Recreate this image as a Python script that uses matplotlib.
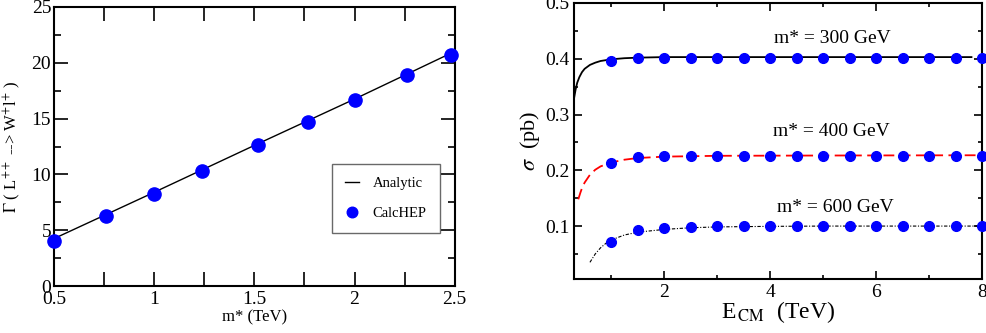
import matplotlib
matplotlib.use('Agg')
import matplotlib.pyplot as plt
from matplotlib.ticker import MultipleLocator, FixedLocator, FuncFormatter

plt.rcParams['font.family'] = ['Liberation Serif', 'DejaVu Serif']
plt.rcParams['mathtext.fontset'] = 'stix'

# Left panel: width vs mass
analytic_m = [0.5, 1.0, 1.5, 2.0, 2.48]
analytic_gamma = [4.25, 8.4, 12.6, 16.75, 20.85]
calchep_m = [0.5, 0.76, 1.0, 1.24, 1.52, 1.77, 2.0, 2.26, 2.48]
calchep_gamma = [4.0, 6.26, 8.29, 10.3, 12.63, 14.67, 16.7, 18.9, 20.72]

# Right panel: cross section vs E_CM
curve300_e = [0.3, 0.33, 0.36, 0.4, 0.45, 0.5, 0.6, 0.7, 0.8, 1.0, 1.25, 1.5, 2.0, 3.0, 5.0, 7.8]
curve300_s = [0.329, 0.345, 0.357, 0.367, 0.376, 0.382, 0.389, 0.393, 0.396, 0.399, 0.401, 0.402, 0.403, 0.403, 0.403, 0.403]
curve400_e = [0.38, 0.42, 0.45, 0.5, 0.6, 0.7, 0.8, 1.0, 1.25, 1.5, 2.0, 3.0, 5.0, 8.0]
curve400_s = [0.148, 0.160, 0.168, 0.178, 0.192, 0.201, 0.207, 0.214, 0.219, 0.222, 0.2245, 0.226, 0.2265, 0.227]
curve600_e = [0.6, 0.7, 0.8, 0.9, 1.0, 1.25, 1.5, 2.0, 2.5, 3.0, 4.0, 5.0, 8.0]
curve600_s = [0.035, 0.050, 0.061, 0.069, 0.075, 0.084, 0.089, 0.094, 0.097, 0.0985, 0.0995, 0.1, 0.1]

points_e = [1.0, 1.5, 2.0, 2.5, 3.0, 3.5, 4.0, 4.5, 5.0, 5.5, 6.0, 6.5, 7.0, 7.5, 8.0]
points300 = [0.396, 0.401, 0.401, 0.401, 0.401, 0.401, 0.401, 0.401, 0.401, 0.401, 0.401, 0.401, 0.401, 0.401, 0.401]
points400 = [0.213, 0.223, 0.2255, 0.226, 0.226, 0.226, 0.226, 0.226, 0.226, 0.226, 0.226, 0.226, 0.226, 0.226, 0.226]
points600 = [0.071, 0.093, 0.097, 0.099, 0.1, 0.1, 0.1, 0.1, 0.1, 0.1, 0.1, 0.1, 0.1, 0.1, 0.1]

labels = ['m* = 300 GeV', 'm* = 400 GeV', 'm* = 600 GeV']
label_pos = [(5.17, 0.4365), (5.15, 0.269), (5.23, 0.1335)]


def style_axes(ax, major, minor):
  for spine in ax.spines.values():
    spine.set_linewidth(1.5)
  ax.tick_params(which='both', direction='in', top=True, right=True, labelsize=14, width=1.2)
  ax.tick_params(which='major', length=major)
  ax.tick_params(which='minor', length=minor)


fig = plt.figure(figsize=(9.87, 3.33), dpi=100)

ax1 = fig.add_axes([0.0547, 0.141, 0.406, 0.838])
ax1.plot(analytic_m, analytic_gamma, color='black', lw=1.0, label='Analytic', zorder=2)
ax1.plot(calchep_m, calchep_gamma, 'o', color='blue', ms=9.5, label='CalcHEP', zorder=3, clip_on=False)
ax1.set_xlim(0.5, 2.5)
ax1.set_ylim(0, 25)
style_axes(ax1, 10, 5)
ax1.xaxis.set_major_locator(MultipleLocator(0.5))
ax1.xaxis.set_minor_locator(FixedLocator([0.75, 1.25, 1.75, 2.25]))
ax1.tick_params(axis='x', which='minor', length=10)
ax1.yaxis.set_major_locator(MultipleLocator(5))
ax1.yaxis.set_minor_locator(MultipleLocator(2.5))
ax1.xaxis.set_major_formatter(FuncFormatter(lambda v, p: '%g' % v))
ax1.tick_params(axis='y', which='major', pad=2)
ax1.set_xlabel('m* (TeV)', fontsize=12, labelpad=1)
ax1.set_ylabel(r'$\Gamma$ ( L$^{++}$ --> W$^{+}$l$^{+}$ )', fontsize=12, labelpad=6)
leg = ax1.legend(loc='upper left', bbox_to_anchor=(0.693, 0.437), borderaxespad=0, fontsize=10.5,
                 frameon=True, fancybox=False, edgecolor='#444444', handlelength=1.0,
                 borderpad=0.9, labelspacing=1.1, handletextpad=0.9, markerscale=0.8)
leg.get_frame().set_linewidth(1.0)

ax2 = fig.add_axes([0.5816, 0.162, 0.4134, 0.829])
ax2.plot(curve300_e, curve300_s, color='black', lw=1.3, zorder=2)
ax2.plot(curve400_e, curve400_s, color='red', lw=1.3, dashes=(6, 3), zorder=2)
ax2.plot(curve600_e, curve600_s, color='black', lw=0.8, dashes=(3, 1.5, 1, 1.5), zorder=2)
for vals in (points300, points400, points600):
  ax2.plot(points_e, vals, 'o', color='blue', ms=7, zorder=3, clip_on=False)
for text, (x, y) in zip(labels, label_pos):
  ax2.text(x, y, text, fontsize=14, ha='center', va='center')
ax2.set_xlim(0.3, 8)
ax2.set_ylim(0.005, 0.5)
style_axes(ax2, 5.5, 3)
ax2.xaxis.set_major_locator(FixedLocator([2, 4, 6, 8]))
ax2.xaxis.set_minor_locator(FixedLocator([1, 3, 5, 7]))
ax2.yaxis.set_major_locator(FixedLocator([0.1, 0.2, 0.3, 0.4, 0.5]))
ax2.yaxis.set_minor_locator(FixedLocator([0.05, 0.15, 0.25, 0.35, 0.45]))
ax2.set_xlabel(r'E$_{\,\mathrm{CM}}$  (TeV)', fontsize=17, labelpad=-1)
ax2.set_ylabel(r'$\sigma$  (pb)', fontsize=16, labelpad=2)

fig.savefig('out.png', dpi=100)
